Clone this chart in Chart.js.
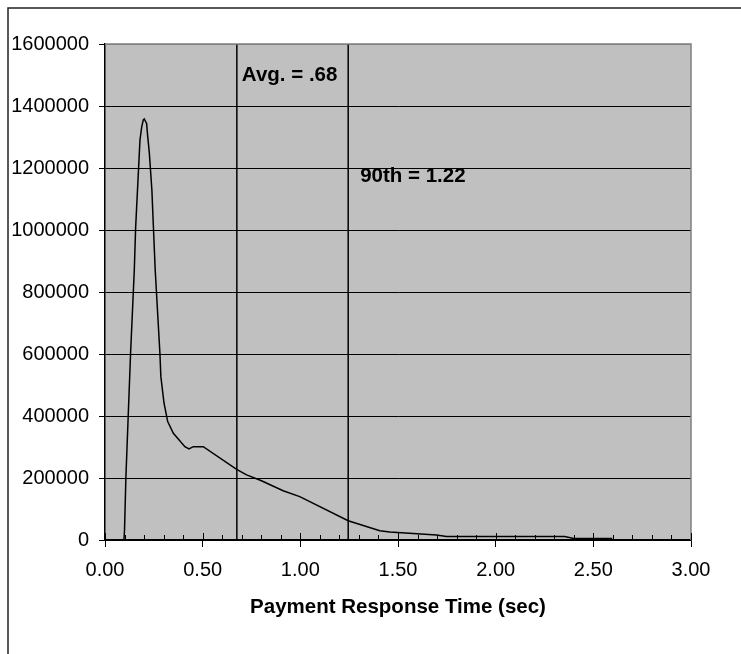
<!DOCTYPE html>
<html>
<head>
<meta charset="utf-8">
<script src="https://cdn.jsdelivr.net/npm/chart.js@4"></script>
<style>
  body { margin: 0; background: #fff; }
  #wrap { width: 741px; height: 654px; }
</style>
</head>
<body>
<div id="wrap"><canvas id="respChart" width="741" height="654"></canvas></div>
<script>
// response time (sec) and number of payments
const responseTime = [
    0.097, 0.100, 0.107, 0.131, 0.150, 0.157, 0.179, 0.188, 0.196, 0.201,
    0.208, 0.213, 0.217, 0.227, 0.240, 0.247, 0.257, 0.281, 0.286, 0.302,
    0.321, 0.350, 0.409, 0.430, 0.452, 0.503, 0.674, 0.725, 0.801, 0.912,
    0.997, 1.245, 1.407, 1.458, 1.697, 1.748, 2.353, 2.400, 2.597
];
const paymentCount = [
    0, 32000, 203000, 603000, 871000, 1010000, 1290000, 1333000, 1355000, 1358000,
    1350000, 1344000, 1313000, 1248000, 1129000, 1022000, 871000, 603000, 527000, 442000,
    382000, 344000, 301000, 294000, 301000, 301000, 228000, 210000, 191000, 159000,
    140000, 62000, 30000, 26000, 16000, 11000, 11000, 5000, 5000
];

// vertical marker lines
const markerNames = ['Avg. = .68', '90th = 1.22'];
const markerX = [0.675, 1.245];
const markerLabelY = [1480000, 1155000];

const FONT = "'Liberation Sans', Arial, sans-serif";

const curve = responseTime.map((x, i) => ({ x: x, y: paymentCount[i] }));
const markerSets = markerX.map(x => ({
    data: [{ x: x, y: 0 }, { x: x, y: 1600000 }],
    borderColor: '#000',
    borderWidth: 1.5,
    pointRadius: 0,
    tension: 0
}));

const plotDecor = {
    id: 'plotDecor',
    beforeDraw(chart) {
        const { ctx, chartArea: a } = chart;
        ctx.save();
        ctx.fillStyle = '#fff';
        ctx.fillRect(0, 0, chart.width, chart.height);
        ctx.fillStyle = '#c0c0c0';
        ctx.fillRect(a.left, a.top, a.right - a.left, a.bottom - a.top);
        ctx.restore();
    },
    afterDraw(chart) {
        const { ctx, chartArea: a } = chart;
        const xs = chart.scales.x, ys = chart.scales.y;
        ctx.save();
        // plot border top/right
        ctx.strokeStyle = '#808080';
        ctx.lineWidth = 1.5;
        ctx.beginPath();
        ctx.moveTo(a.left, a.top);
        ctx.lineTo(a.right, a.top);
        ctx.lineTo(a.right, a.bottom);
        ctx.stroke();
        // inner tick marks on x axis
        ctx.strokeStyle = '#000';
        ctx.lineWidth = 1;
        for (let i = 0; i <= 30; i++) {
            const px = Math.round(xs.getPixelForValue(i / 10)) + 0.5;
            const len = i % 5 === 0 ? 7 : 5;
            ctx.beginPath();
            ctx.moveTo(px, a.bottom);
            ctx.lineTo(px, a.bottom - len);
            ctx.stroke();
        }
        // marker labels
        ctx.fillStyle = '#000';
        ctx.font = 'bold 20.5px ' + FONT;
        ctx.textBaseline = 'alphabetic';
        ctx.textAlign = 'left';
        const offs = [5, 12];
        markerNames.forEach((t, i) => {
            ctx.fillText(t, xs.getPixelForValue(markerX[i]) + offs[i], ys.getPixelForValue(markerLabelY[i]));
        });
        // outer chart border
        ctx.strokeStyle = '#222';
        ctx.lineWidth = 1.5;
        ctx.strokeRect(8, 8, 800, 800);
        ctx.restore();
    }
};

const chart = new Chart(document.getElementById('respChart').getContext('2d'), {
    type: 'line',
    data: {
        datasets: [{
            data: curve,
            borderColor: '#000',
            borderWidth: 1.5,
            pointRadius: 0,
            tension: 0
        }, ...markerSets]
    },
    options: {
        responsive: false,
        animation: false,
        layout: { padding: { left: 0, top: 44, right: 50, bottom: 0 } },
        plugins: {
            legend: { display: false },
            tooltip: { enabled: false }
        },
        scales: {
            x: {
                type: 'linear',
                min: 0,
                max: 3,
                afterFit(scale) { scale.height = 114; },
                ticks: {
                    stepSize: 0.5,
                    padding: 11,
                    color: '#000',
                    font: { family: FONT, size: 20 },
                    maxRotation: 0,
                    callback: v => Number(v).toFixed(2)
                },
                grid: { drawOnChartArea: false, drawTicks: true, tickLength: 7, color: '#000' },
                border: { color: '#000', width: 1.5 },
                title: {
                    display: true,
                    text: 'Payment Response Time (sec)',
                    color: '#000',
                    font: { family: FONT, size: 20.5, weight: 'bold' },
                    padding: { top: 0, bottom: 34 }
                }
            },
            y: {
                min: 0,
                max: 1600000,
                afterFit(scale) { scale.width = 105; },
                ticks: {
                    stepSize: 200000,
                    padding: 10,
                    color: '#000',
                    font: { family: FONT, size: 20 },
                    callback: v => String(v)
                },
                grid: {
                    color: ctx => ctx.tick && ctx.tick.value === 1600000 ? '#808080' : '#000',
                    tickColor: '#000',
                    tickLength: 6,
                    lineWidth: 1
                },
                border: { color: '#000', width: 1.5 }
            }
        }
    },
    plugins: [plotDecor]
});
</script>
</body>
</html>
